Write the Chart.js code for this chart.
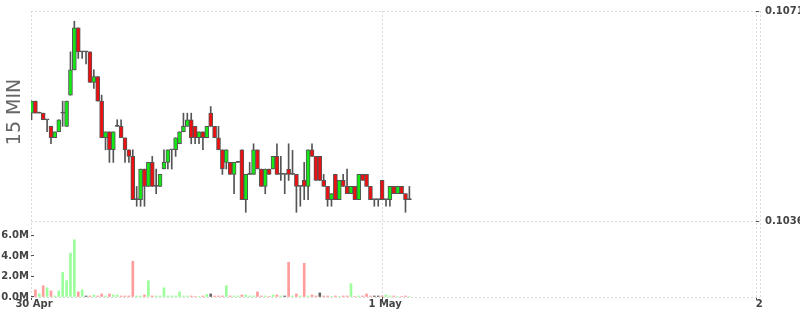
<!DOCTYPE html>
<html><head><meta charset="utf-8">
<script src="https://cdn.jsdelivr.net/npm/chart.js@4.4.1/dist/chart.umd.min.js"></script>
<style>html,body{margin:0;padding:0;background:#fff;}</style>
</head><body>
<canvas id="c" width="800" height="315"></canvas>
<script>
// 15-minute candle index (0 = 30 Apr 00:00)
const idx = [];
for (let i = 6; i <= 103; i++) idx.push(i);

const open = [
0.10540,0.10560,0.10540,0.10540,0.10529,0.10518,0.10499,0.10509,0.10540,0.10518,
0.10570,0.10612,0.10682,0.10642,0.10642,0.10642,0.10591,0.10601,0.10560,0.10499,
0.10509,0.10479,0.10518,0.10518,0.10499,0.10479,0.10468,0.10396,0.10396,0.10447,
0.10418,0.10458,0.10418,0.10418,0.10447,0.10458,0.10479,0.10479,0.10489,0.10509,
0.10518,0.10529,0.10518,0.10499,0.10509,0.10499,0.10540,0.10518,0.10499,0.10479,
0.10458,0.10458,0.10438,0.10458,0.10479,0.10396,0.10438,0.10438,0.10479,0.10447,
0.10418,0.10447,0.10447,0.10468,0.10438,0.10438,0.10447,0.10438,0.10438,0.10418,
0.10428,0.10418,0.10479,0.10468,0.10468,0.10428,0.10418,0.10396,0.10438,0.10396,
0.10428,0.10418,0.10406,0.10418,0.10396,0.10438,0.10438,0.10418,0.10396,0.10396,
0.10428,0.10396,0.10396,0.10418,0.10406,0.10418,0.10406,0.10396];
const high = [
0.10560,0.10560,0.10540,0.10540,0.10529,0.10518,0.10509,0.10529,0.10560,0.10560,
0.10642,0.10693,0.10682,0.10642,0.10642,0.10642,0.10612,0.10601,0.10570,0.10509,
0.10509,0.10509,0.10529,0.10529,0.10499,0.10479,0.10479,0.10418,0.10447,0.10447,
0.10458,0.10468,0.10447,0.10438,0.10479,0.10479,0.10479,0.10499,0.10509,0.10540,
0.10540,0.10540,0.10518,0.10509,0.10509,0.10518,0.10551,0.10518,0.10518,0.10479,
0.10479,0.10458,0.10458,0.10458,0.10479,0.10438,0.10458,0.10489,0.10479,0.10447,
0.10447,0.10447,0.10468,0.10489,0.10468,0.10438,0.10489,0.10478,0.10438,0.10418,
0.10458,0.10479,0.10489,0.10468,0.10468,0.10438,0.10418,0.10406,0.10438,0.10428,
0.10438,0.10447,0.10418,0.10418,0.10438,0.10438,0.10438,0.10418,0.10396,0.10396,
0.10428,0.10396,0.10418,0.10418,0.10418,0.10418,0.10406,0.10418];
const low = [
0.10529,0.10540,0.10540,0.10529,0.10509,0.10489,0.10499,0.10509,0.10518,0.10518,
0.10570,0.10612,0.10631,0.10631,0.10622,0.10591,0.10581,0.10560,0.10499,0.10479,
0.10458,0.10458,0.10518,0.10499,0.10458,0.10458,0.10396,0.10385,0.10385,0.10385,
0.10418,0.10418,0.10406,0.10418,0.10447,0.10447,0.10447,0.10468,0.10489,0.10509,
0.10518,0.10489,0.10489,0.10489,0.10479,0.10499,0.10518,0.10499,0.10479,0.10438,
0.10447,0.10438,0.10406,0.10458,0.10396,0.10375,0.10438,0.10438,0.10447,0.10418,
0.10406,0.10438,0.10447,0.10438,0.10428,0.10406,0.10428,0.10438,0.10375,0.10385,
0.10396,0.10396,0.10468,0.10428,0.10428,0.10418,0.10385,0.10385,0.10396,0.10396,
0.10418,0.10406,0.10406,0.10396,0.10396,0.10428,0.10418,0.10396,0.10385,0.10385,
0.10396,0.10385,0.10385,0.10406,0.10406,0.10406,0.10375,0.10396];
const close = [
0.10560,0.10540,0.10540,0.10529,0.10529,0.10499,0.10509,0.10529,0.10540,0.10560,
0.10612,0.10682,0.10642,0.10642,0.10642,0.10591,0.10601,0.10560,0.10499,0.10509,
0.10479,0.10509,0.10518,0.10499,0.10479,0.10468,0.10396,0.10396,0.10447,0.10418,
0.10458,0.10418,0.10418,0.10438,0.10458,0.10479,0.10479,0.10499,0.10509,0.10518,
0.10529,0.10499,0.10499,0.10509,0.10499,0.10518,0.10518,0.10499,0.10479,0.10447,
0.10479,0.10438,0.10458,0.10458,0.10396,0.10438,0.10438,0.10479,0.10447,0.10418,
0.10447,0.10438,0.10468,0.10438,0.10438,0.10438,0.10438,0.10438,0.10418,0.10418,
0.10418,0.10479,0.10468,0.10428,0.10428,0.10418,0.10396,0.10406,0.10396,0.10428,
0.10418,0.10406,0.10418,0.10396,0.10438,0.10428,0.10418,0.10396,0.10396,0.10396,
0.10396,0.10396,0.10418,0.10406,0.10418,0.10406,0.10396,0.10396];
// volume in millions
const volume = [
0.1,0.7,0.3,1.1,0.9,0.6,0.1,0.6,2.4,1.6,
4.3,5.6,0.5,0.7,0.1,0.1,0.2,0.1,0.3,0.1,
0.3,0.2,0.2,0.1,0.1,0.1,3.5,0.1,0.1,0.2,
1.6,0.1,0.1,0.1,0.9,0.1,0.1,0.1,0.5,0.1,
0.1,0.1,0.05,0.05,0.1,0.25,0.3,0.1,0.1,0.1,
1.1,0.1,0.1,0.1,0.2,0.2,0.1,0.1,0.5,0.1,
0.1,0.05,0.2,0.2,0.1,0.1,3.4,0.1,0.3,0.1,
3.3,0.1,0.2,0.1,0.4,0.1,0.1,0.05,0.1,0.05,
0.1,0.1,1.3,0.05,0.1,0.1,0.3,0.1,0.1,0.1,
0.1,0.2,0.1,0.1,0.05,0.05,0.1,0.05];
const volDir = [
'g','r','g','r','g','r','g','g','g','g',
'g','g','r','g','n','r','g','r','r','g',
'r','g','g','r','r','r','r','g','g','r',
'g','r','g','g','g','g','g','g','g','g',
'g','r','r','g','r','g','n','r','r','r',
'g','r','g','g','r','g','g','g','r','r',
'g','r','g','r','g','n','r','g','r','g',
'r','g','r','r','n','r','r','g','r','g',
'r','r','g','r','g','r','r','r','n','n',
'r','g','g','r','g','r','r','g'];

const xTickValues = [96, 192];
const xTickLabels = ['1 May', '2'];
const xStartLabel = '30 Apr';
const priceTicks = [0.1036, 0.1071];
const volTicks = [0, 2, 4, 6];

const X_MIN = 5.87, X_MAX = 193.0;
const GRID = '#dadada';
const TXT = '#444';
const FONT = {family: 'DejaVu Sans', size: 10, weight: 'bold'};
const UP = '#16e816', DOWN = '#ee1010', EDGE = '#555555';
const VOLC = {g: '#9cff9c', r: '#ff9c9c', n: '#666666'};

const bodyColors = open.map((o, k) => close[k] > o ? UP : (close[k] < o ? DOWN : EDGE));

const innerTicks = {
  id: 'innerTicks',
  afterDraw(chart) {
    const {ctx, chartArea: a, scales} = chart;
    ctx.save();
    ctx.strokeStyle = '#555';
    ctx.lineWidth = 1;
    scales.yP.ticks.forEach(t => {
      const y = Math.round(scales.yP.getPixelForValue(t.value)) + 0.5;
      ctx.beginPath(); ctx.moveTo(a.right - 4, y); ctx.lineTo(a.right - 1, y); ctx.stroke();
    });
    scales.yV.ticks.forEach(t => {
      const y = Math.round(scales.yV.getPixelForValue(t.value)) - 0.5;
      ctx.beginPath(); ctx.moveTo(a.left, y); ctx.lineTo(a.left + 3, y); ctx.stroke();
    });
    ctx.restore();
  }
};
const sideTitle = {
  id: 'sideTitle',
  afterDraw(chart) {
    const ctx = chart.ctx;
    ctx.save();
    ctx.translate(15.5, 112);
    ctx.rotate(-Math.PI / 2);
    ctx.font = '19px "DejaVu Sans"';
    ctx.fillStyle = '#666';
    ctx.textAlign = 'center';
    ctx.textBaseline = 'middle';
    ctx.fillText('15 MIN', 0, 0);
    ctx.restore();
  }
};

new Chart(document.getElementById('c'), {
  type: 'bar',
  data: {
    datasets: [
      {
        label: 'body',
        data: idx.map((x, k) => ({x, y: [open[k], close[k]]})),
        backgroundColor: bodyColors,
        borderColor: EDGE,
        borderWidth: 1,
        borderSkipped: false,
        barThickness: 4,
        minBarLength: 1,
        grouped: false,
        yAxisID: 'yP',
        order: 0
      },
      {
        label: 'wick',
        data: idx.map((x, k) => ({x, y: [low[k], high[k]]})),
        backgroundColor: EDGE,
        borderWidth: 0,
        barThickness: 1,
        minBarLength: 1,
        grouped: false,
        yAxisID: 'yP',
        order: 1
      },
      {
        label: 'volume',
        data: idx.map((x, k) => ({x, y: volume[k]})),
        backgroundColor: volDir.map(d => VOLC[d]),
        borderWidth: 0,
        barThickness: 2,
        grouped: false,
        yAxisID: 'yV',
        order: 2
      }
    ]
  },
  options: {
    responsive: false,
    animation: false,
    devicePixelRatio: 1,
    layout: {padding: {top: 10, left: 0, right: 0, bottom: 0}},
    plugins: {legend: {display: false}, tooltip: {enabled: false}},
    scales: {
      x: {
        type: 'linear',
        min: X_MIN, max: X_MAX,
        offset: false,
        afterBuildTicks: s => { s.ticks = [X_MIN, ...xTickValues, X_MAX].map(v => ({value: v})); },
        ticks: {
          autoSkip: false, maxRotation: 0, minRotation: 0,
          font: FONT, color: TXT, padding: -2, labelOffset: 3,
          callback: (v) => {
            if (v === X_MIN) return xStartLabel;
            const j = xTickValues.indexOf(v);
            return j >= 0 ? xTickLabels[j] : '';
          }
        },
        grid: {
          offset: false,
          color: GRID,
          tickLength: 3,
          tickColor: c => (c.tick && c.tick.value === X_MAX) ? 'rgba(0,0,0,0)' : '#555',
          tickBorderDash: [],
          drawTicks: true
        },
        border: {display: false, dash: [2, 2]},
        afterFit: s => { s.height = 18; }
      },
      yP: {
        type: 'linear',
        position: 'right',
        min: 0.10234, max: 0.1071,
        afterBuildTicks: s => { s.ticks = priceTicks.map(v => ({value: v})); },
        ticks: {font: FONT, color: TXT, padding: 5, callback: v => Number(v).toFixed(4)},
        grid: {color: GRID, drawTicks: false},
        border: {display: false, dash: [2, 2]},
        afterFit: s => { s.width = 40; }
      },
      yV: {
        type: 'linear',
        position: 'left',
        min: 0, max: 28,
        afterBuildTicks: s => { s.ticks = volTicks.map(v => ({value: v})); },
        ticks: {font: FONT, color: TXT, padding: 2, callback: v => Number(v).toFixed(1) + 'M'},
        grid: {
          color: c => (c.tick && c.tick.value === 0) ? GRID : 'rgba(0,0,0,0)',
          drawTicks: false
        },
        border: {display: false, dash: [2, 2]},
        afterFit: s => { s.width = 31; }
      }
    }
  },
  plugins: [innerTicks, sideTitle]
});
</script>
</body></html>
